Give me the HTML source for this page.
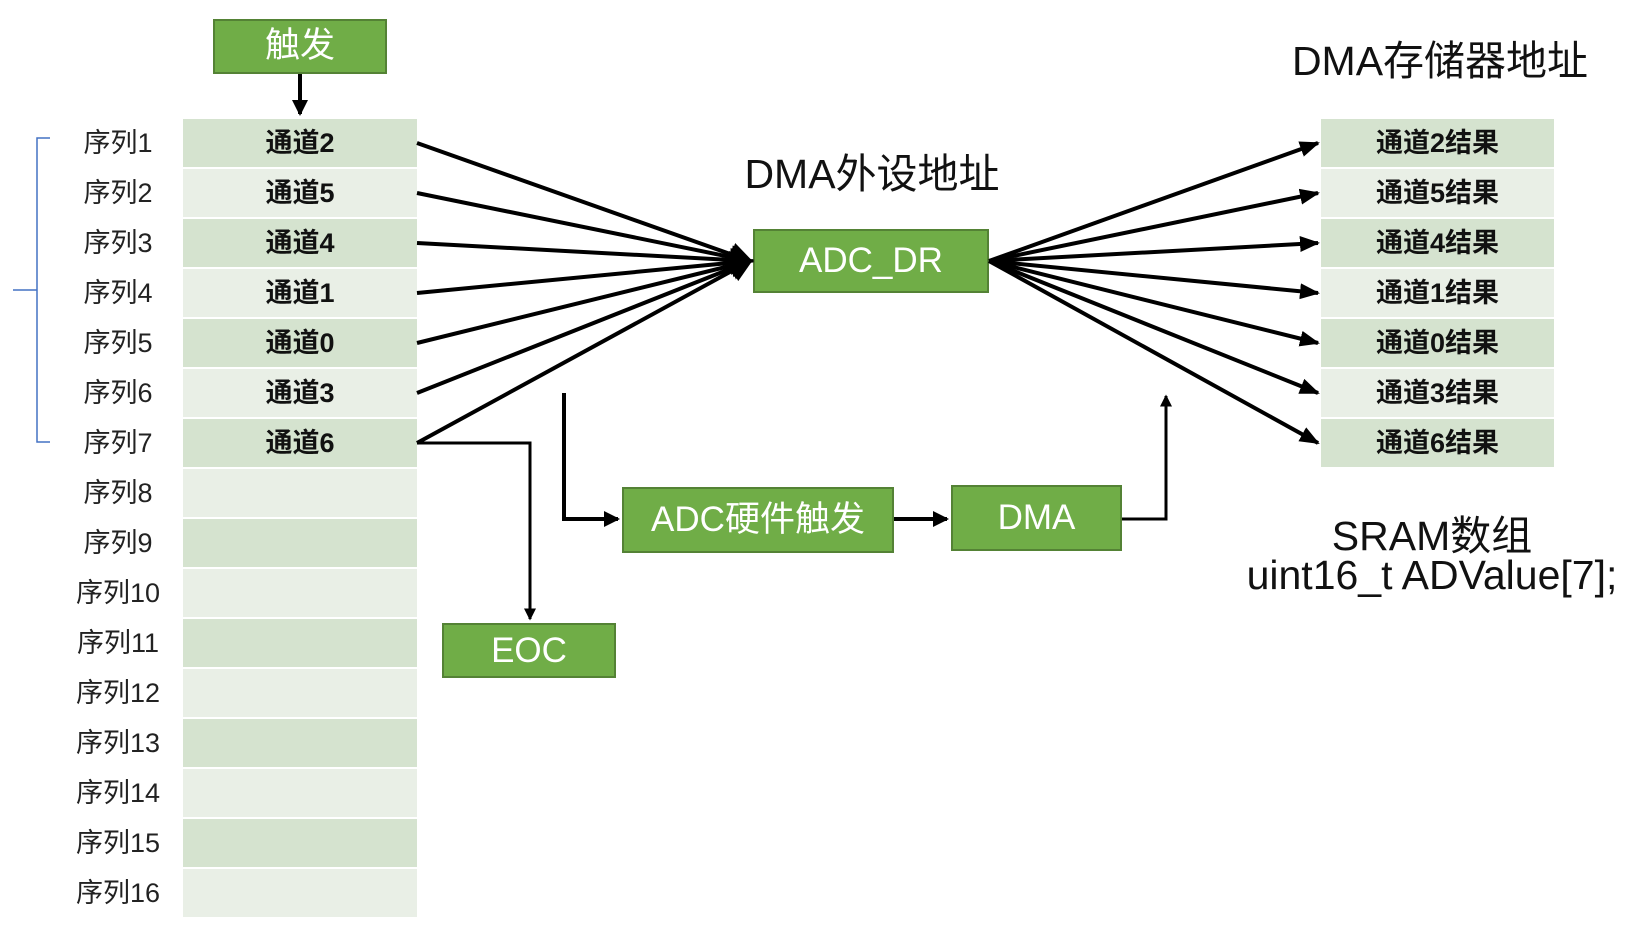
<!DOCTYPE html>
<html><head><meta charset="utf-8"><style>
body{margin:0;width:1627px;height:931px;background:#fff;overflow:hidden;position:relative;font-family:"Liberation Sans","Noto Sans CJK SC",sans-serif}
.r{position:absolute;height:48px;line-height:48px;text-align:center;font-weight:bold;font-size:27px;color:#111}
.l{position:absolute;width:120px;left:58px;height:48px;line-height:48px;text-align:center;font-size:27px;color:#222}
.g{position:absolute;background:#70ad47;border:2px solid #548235;box-sizing:border-box;color:#fff;text-align:center;font-size:35px}
.t{position:absolute;text-align:center;font-size:41px;color:#111;white-space:nowrap}
</style></head><body>
<div id="rows"></div>
<div class="g" style="left:213px;top:19px;width:174px;height:55px;line-height:50px">触发</div>
<div class="g" style="left:753px;top:229px;width:236px;height:64px;line-height:60px">ADC_DR</div>
<div class="g" style="left:622px;top:487px;width:272px;height:66px;line-height:62px">ADC硬件触发</div>
<div class="g" style="left:951px;top:485px;width:171px;height:66px;line-height:62px">DMA</div>
<div class="g" style="left:442px;top:623px;width:174px;height:55px;line-height:51px">EOC</div>
<div class="t" style="left:672px;top:140px;width:400px">DMA外设地址</div>
<div class="t" style="left:1240px;top:27px;width:400px">DMA存储器地址</div>
<div class="t" style="left:1232px;top:502px;width:400px">SRAM数组</div>
<div class="t" style="left:1232px;top:552px;width:400px">uint16_t ADValue[7];</div>
<svg width="1627" height="931" style="position:absolute;left:0;top:0">
<defs><marker id="a" markerWidth="6" markerHeight="6" refX="5" refY="3" orient="auto" markerUnits="strokeWidth"><path d="M0,0L6,3L0,6z" fill="#000"/></marker>
<marker id="c" markerWidth="5" markerHeight="4" refX="4.5" refY="2" orient="auto" markerUnits="strokeWidth"><path d="M0,0L5,2L0,4z" fill="#000"/></marker>
<marker id="b" markerWidth="4" markerHeight="4" refX="3.5" refY="2" orient="auto" markerUnits="strokeWidth"><path d="M0,0L4,2L0,4z" fill="#000"/></marker></defs>
<path d="M50,138H37V442H50M37,290H13" fill="none" stroke="#4472c4" stroke-width="1.5"/>
<g stroke="#000" stroke-width="4" fill="none" id="ln"></g>
<line x1="300" y1="74" x2="300" y2="114" stroke="#000" stroke-width="4" marker-end="url(#b)"/>
<polyline points="564,393 564,519 618,519" fill="none" stroke="#000" stroke-width="4" marker-end="url(#b)"/>
<line x1="894" y1="519" x2="947" y2="519" stroke="#000" stroke-width="4" marker-end="url(#b)"/>
<polyline points="1122,519 1166,519 1166,396" fill="none" stroke="#000" stroke-width="3" marker-end="url(#b)"/>
<polyline points="417,443 530,443 530,619" fill="none" stroke="#000" stroke-width="3" marker-end="url(#b)"/>
</svg>
<script>
var ch=["通道2","通道5","通道4","通道1","通道0","通道3","通道6"],h="";
for(var i=0;i<16;i++){var y=119+50*i,c=i%2?"#e9efe6":"#d5e3cf";
h+='<div class="l" style="top:'+y+'px">序列'+(i+1)+'</div>';
h+='<div class="r" style="left:183px;width:234px;top:'+y+'px;background:'+c+'">'+(i<7?ch[i]:"")+'</div>';
if(i<7)h+='<div class="r" style="left:1321px;width:233px;top:'+y+'px;background:'+c+'">'+ch[i]+'结果</div>';}
document.getElementById("rows").innerHTML=h;
var s="";for(var i=0;i<7;i++){var y=143+50*i;
s+='<line x1="417" y1="'+y+'" x2="750" y2="261" marker-end="url(#a)"/>';
s+='<line x1="989" y1="261" x2="1318" y2="'+y+'" marker-end="url(#c)"/>';}
document.getElementById("ln").innerHTML=s;
</script>
</body></html>
